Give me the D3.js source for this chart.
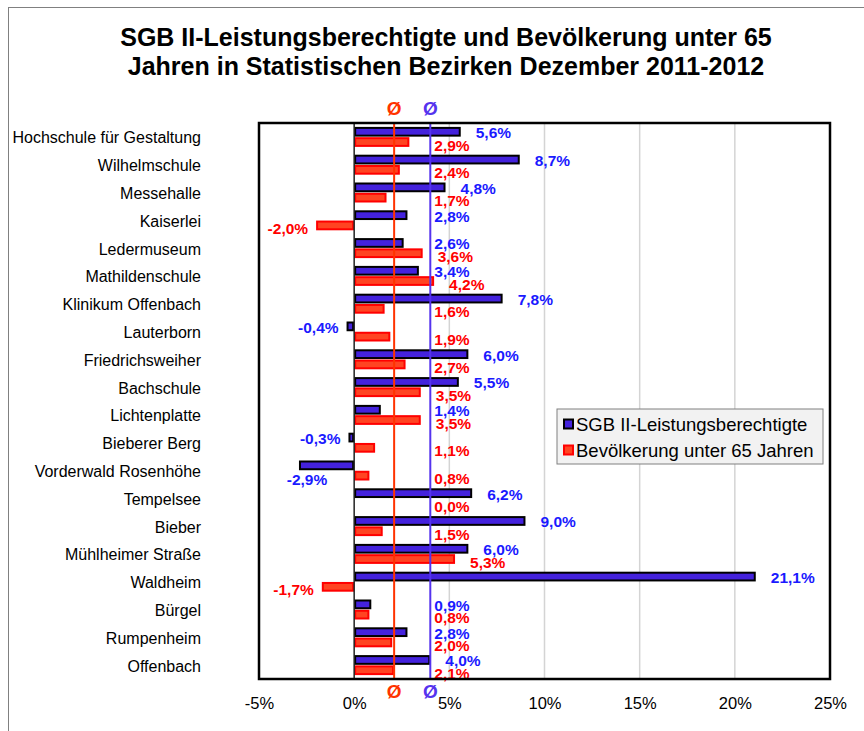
<!DOCTYPE html>
<html>
<head>
  <meta charset="utf-8">
  <title>SGB II-Leistungsberechtigte und Bevölkerung</title>
  <script src="https://d3js.org/d3.v7.min.js"></script>
  <style>
    body { margin: 0; background: #fff; }
    svg { display: block; font-family: Arial, "Liberation Sans", sans-serif; }
  </style>
</head>
<body>
  <div id="chart"></div>
  <script>
    // Daten
    const categories = ["Hochschule für Gestaltung", "Wilhelmschule", "Messehalle", "Kaiserlei",
      "Ledermuseum", "Mathildenschule", "Klinikum Offenbach", "Lauterborn", "Friedrichsweiher",
      "Bachschule", "Lichtenplatte", "Bieberer Berg", "Vorderwald Rosenhöhe", "Tempelsee",
      "Bieber", "Mühlheimer Straße", "Waldheim", "Bürgel", "Rumpenheim", "Offenbach"];
    const sgbValues = [5.6, 8.7, 4.8, 2.8, 2.6, 3.4, 7.8, -0.4, 6.0, 5.5, 1.4, -0.3, -2.9, 6.2, 9.0, 6.0, 21.1, 0.9, 2.8, 4.0];
    const bevValues = [2.9, 2.4, 1.7, -2.0, 3.6, 4.2, 1.6, 1.9, 2.7, 3.5, 3.5, 1.1, 0.8, 0.0, 1.5, 5.3, -1.7, 0.8, 2.0, 2.1];
    const seriesNames = ["SGB II-Leistungsberechtigte", "Bevölkerung unter 65 Jahren"];
    const avgSgb = 4.0;   // Ø Offenbach
    const avgBev = 2.1;
    const xTicks = [-5, 0, 5, 10, 15, 20, 25];
    const titleLines = ["SGB II-Leistungsberechtigte und Bevölkerung unter 65",
      "Jahren in Statistischen Bezirken Dezember 2011-2012"];

    const width = 864, height = 731;
    const plot = { left: 259, right: 830, top: 123, bottom: 679 };

    const blueFill = "#4422DD", blueText = "#1A1AFF", blueLine = "#5533EE";
    const redFill = "#FF4422", redText = "#FF0000", redLine = "#FF3300";
    const labelSize = 15.5;

    const fmt = v => v.toFixed(1).replace(".", ",") + "%";

    const svg = d3.select("#chart").append("svg")
      .attr("width", width).attr("height", height);

    // Rahmen des Diagrammbereichs
    svg.append("rect")
      .attr("x", 8.5).attr("y", 7.5).attr("width", 900).attr("height", 900)
      .attr("fill", "none").attr("stroke", "#808080").attr("stroke-width", 1);

    // Titel
    svg.append("g").selectAll("text").data(titleLines).join("text")
      .attr("x", 446).attr("y", (d, i) => 46 + i * 29)
      .attr("text-anchor", "middle")
      .attr("font-size", 25).attr("font-weight", "bold")
      .text(d => d);

    // Skalen
    const x = d3.scaleLinear().domain([-5, 25]).range([plot.left, plot.right]);
    const y = d3.scaleBand().domain(categories).range([plot.top, plot.bottom]);
    const ySub = d3.scaleBand().domain(["sgb", "bev"]).range([0, y.bandwidth()])
      .paddingInner(0.05).paddingOuter(0.38);

    // Gitternetzlinien
    svg.append("g").selectAll("line").data(xTicks.filter(t => t > 0 && t < 25)).join("line")
      .attr("x1", d => x(d)).attr("x2", d => x(d))
      .attr("y1", plot.top).attr("y2", plot.bottom)
      .attr("stroke", "#D4D4D4").attr("stroke-width", 1.5);

    // Achse x (nur Beschriftung)
    const xAxis = d3.axisBottom(x).tickValues(xTicks).tickSize(0).tickPadding(18)
      .tickFormat(d => d + "%");
    const gx = svg.append("g")
      .attr("transform", `translate(0,${plot.bottom})`)
      .call(xAxis);
    gx.select(".domain").remove();
    gx.selectAll("text").attr("font-size", 16.5).attr("font-family", "Arial, 'Liberation Sans', sans-serif")
      .attr("fill", "#000");

    // Kategorien
    svg.append("g").selectAll("text").data(categories).join("text")
      .attr("x", 201).attr("y", d => y(d) + y.bandwidth() / 2 + 1)
      .attr("text-anchor", "end").attr("dominant-baseline", "central")
      .attr("font-size", 16)
      .text(d => d);

    // Balken
    const rows = categories.map((c, i) => ({ cat: c, sgb: sgbValues[i], bev: bevValues[i] }));

    svg.append("g").selectAll("rect").data(rows).join("rect")
      .attr("x", d => x(Math.min(0, d.bev)) + 1)
      .attr("y", d => y(d.cat) + ySub("bev") + 1)
      .attr("width", d => Math.max(0, Math.abs(x(d.bev) - x(0)) - 2))
      .attr("height", ySub.bandwidth() - 2)
      .attr("fill", redFill).attr("stroke", redText).attr("stroke-width", 2);

    svg.append("g").selectAll("rect").data(rows).join("rect")
      .attr("x", d => x(Math.min(0, d.sgb)) + 1)
      .attr("y", d => y(d.cat) + ySub("sgb") + 1)
      .attr("width", d => Math.max(0, Math.abs(x(d.sgb) - x(0)) - 2))
      .attr("height", ySub.bandwidth() - 2)
      .attr("fill", blueFill).attr("stroke", "#000").attr("stroke-width", 2);

    // Nulllinie
    svg.append("line")
      .attr("x1", x(0)).attr("x2", x(0)).attr("y1", plot.top).attr("y2", plot.bottom)
      .attr("stroke", "#222").attr("stroke-width", 1.5);

    // Durchschnittslinien
    const avgs = [{ v: avgBev, c: redLine }, { v: avgSgb, c: blueLine }];
    svg.append("g").selectAll("line").data(avgs).join("line")
      .attr("x1", d => x(d.v)).attr("x2", d => x(d.v))
      .attr("y1", plot.top).attr("y2", plot.bottom)
      .attr("stroke", d => d.c).attr("stroke-width", 2);
    ["top", "bottom"].forEach(pos => {
      svg.append("g").selectAll("text").data(avgs).join("text")
        .attr("x", d => x(d.v)).attr("y", pos === "top" ? 115 : 698)
        .attr("text-anchor", "middle")
        .attr("font-size", 19).attr("font-weight", "bold")
        .attr("fill", d => d.c)
        .text("Ø");
    });

    // Datenbeschriftungen
    const labels = [];
    rows.forEach(d => {
      labels.push({ v: d.sgb, cy: y(d.cat) + ySub("sgb") + ySub.bandwidth() / 2 + 1, c: blueText });
      labels.push({ v: d.bev, cy: y(d.cat) + ySub("bev") + ySub.bandwidth() / 2 + 3, c: redText });
    });
    const lab = svg.append("g").selectAll("text").data(labels).join("text")
      .attr("dominant-baseline", "central")
      .attr("font-size", labelSize).attr("font-weight", "bold")
      .attr("fill", d => d.c)
      .text(d => fmt(d.v));
    lab.each(function (d) {
      const t = d3.select(this);
      const w = this.getComputedTextLength();
      if (d.v >= 0) {
        t.attr("x", Math.max(x(d.v) + 15, x(avgSgb) + 4)).attr("y", d.cy);
      } else if (x(d.v) - 8 - w < plot.left + 4) {
        // kein Platz links: unter das Balkenende
        t.attr("x", x(d.v) - w / 2 + 8).attr("y", d.cy + 13);
      } else {
        t.attr("x", x(d.v) - 8 - w).attr("y", d.cy);
      }
    });

    // Rahmen Zeichnungsfläche
    svg.append("rect")
      .attr("x", plot.left).attr("y", plot.top)
      .attr("width", plot.right - plot.left).attr("height", plot.bottom - plot.top)
      .attr("fill", "none").attr("stroke", "#000").attr("stroke-width", 2.5);

    // Legende
    const lg = svg.append("g").attr("transform", "translate(557,409)");
    lg.append("rect").attr("width", 266).attr("height", 55)
      .attr("fill", "#F2F2F2").attr("stroke", "#808080").attr("stroke-width", 1);
    const items = lg.selectAll("g").data(seriesNames).join("g")
      .attr("transform", (d, i) => `translate(6,${15 + i * 26})`);
    items.append("rect").attr("x", 1).attr("y", -4.5).attr("width", 9).attr("height", 9)
      .attr("fill", (d, i) => i === 0 ? blueFill : redFill)
      .attr("stroke", (d, i) => i === 0 ? "#000" : redText).attr("stroke-width", 2);
    items.append("text").attr("x", 13).attr("dominant-baseline", "central")
      .attr("font-size", 18.5).text(d => d);
  </script>
</body>
</html>
